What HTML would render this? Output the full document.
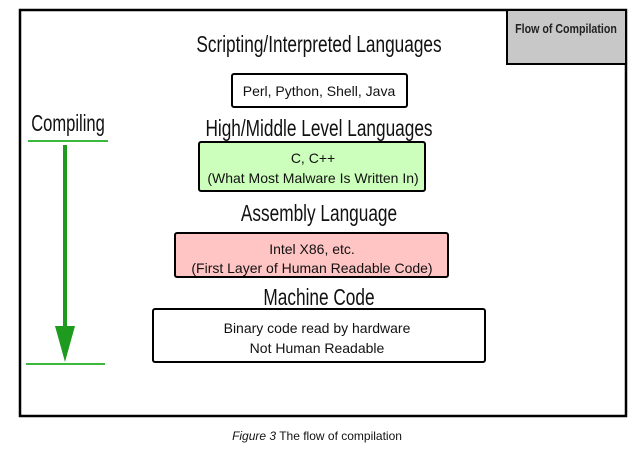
<!DOCTYPE html>
<html><head><meta charset="utf-8"><style>
html,body{margin:0;padding:0;background:#fff;}
body{width:636px;height:453px;overflow:hidden;}
</style></head><body>
<svg width="636" height="453" viewBox="0 0 636 453" xmlns="http://www.w3.org/2000/svg">
<rect x="20" y="10" width="606" height="406" fill="#fff" stroke="#000" stroke-width="2.5"/>
<rect x="507" y="10" width="119" height="54" fill="#c8c8c8" stroke="#000" stroke-width="2"/>
<text x="566" y="33" text-anchor="middle" font-family="Liberation Sans,sans-serif" font-weight="bold" font-size="13" transform="translate(566 0) scale(0.82 1) translate(-566 0)" fill="#222">Flow of Compilation</text>

<g font-family="Liberation Sans,sans-serif" fill="#111">
<text x="319" y="52" text-anchor="middle" font-size="23" transform="translate(319 0) scale(0.75 1) translate(-319 0)">Scripting/Interpreted Languages</text>
<text x="319" y="136" text-anchor="middle" font-size="23" transform="translate(319 0) scale(0.75 1) translate(-319 0)">High/Middle Level Languages</text>
<text x="319" y="221" text-anchor="middle" font-size="23" transform="translate(319 0) scale(0.75 1) translate(-319 0)">Assembly Language</text>
<text x="319" y="305" text-anchor="middle" font-size="23" transform="translate(319 0) scale(0.75 1) translate(-319 0)">Machine Code</text>
<text x="68" y="131" text-anchor="middle" font-size="23" transform="translate(68 0) scale(0.72 1) translate(-68 0)">Compiling</text>
</g>

<rect x="232" y="74" width="175" height="33" rx="2" fill="#fff" stroke="#000" stroke-width="2"/>
<rect x="199" y="142" width="226" height="49" rx="2" fill="#ccffbb" stroke="#000" stroke-width="2"/>
<rect x="175" y="233" width="273" height="44" rx="2" fill="#ffc4c4" stroke="#000" stroke-width="2"/>
<rect x="153" y="309" width="332" height="53" rx="2" fill="#fff" stroke="#000" stroke-width="2"/>

<g font-family="Liberation Sans,sans-serif" font-size="14" fill="#111" text-anchor="middle">
<text x="319" y="96">Perl, Python, Shell, Java</text>
<text x="313" y="163">C, C++</text>
<text x="313" y="183">(What Most Malware Is Written In)</text>
<text x="312" y="254">Intel X86, etc.</text>
<text x="312" y="273">(First Layer of Human Readable Code)</text>
<text x="317" y="333">Binary code read by hardware</text>
<text x="317" y="353">Not Human Readable</text>
</g>

<line x1="28" y1="141" x2="108" y2="141" stroke="#3cb83c" stroke-width="2"/>
<line x1="65" y1="145" x2="65" y2="328" stroke="#1e9b1e" stroke-width="4"/>
<polygon points="55,326 75,326 65,362" fill="#1e9b1e"/>
<line x1="26" y1="364" x2="105" y2="364" stroke="#3cb83c" stroke-width="2"/>

<text x="317" y="440" text-anchor="middle" font-family="Liberation Sans,sans-serif" font-size="12" fill="#111"><tspan font-style="italic">Figure 3</tspan> The flow of compilation</text>
</svg>
</body></html>
